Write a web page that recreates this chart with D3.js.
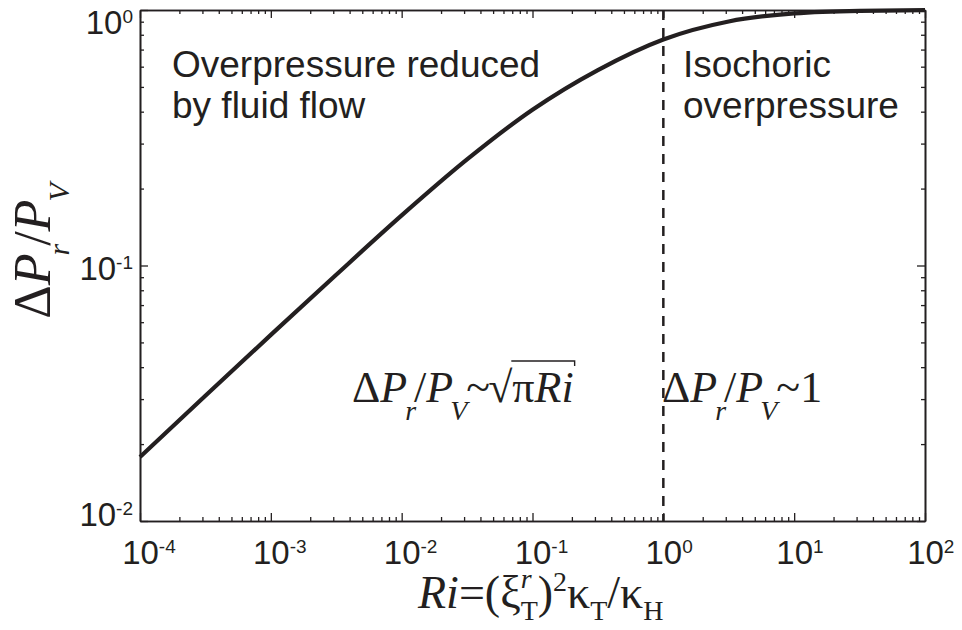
<!DOCTYPE html>
<html>
<head>
<meta charset="utf-8">
<script src="https://cdn.jsdelivr.net/npm/d3@7"></script>
<style>
  body { margin: 0; background: #fff; }
</style>
</head>
<body>
<div id="chart"></div>
<script>
// Values
const riValues = [0.0001, 0.000316, 0.001, 0.00316, 0.01, 0.0316, 0.1, 0.316, 1, 3.16, 10, 31.6, 100];
const pressureRatio = [0.0178, 0.0309, 0.0535, 0.092, 0.157, 0.260, 0.407, 0.582, 0.767, 0.902, 0.970, 0.993, 0.998];
const xTickExponents = [-4, -3, -2, -1, 0, 1, 2];
const yTickExponents = [-2, -1, 0];
const boundaryRi = 1;
const leftRegionLines = ["Overpressure reduced", "by fluid flow"];
const rightRegionLines = ["Isochoric", "overpressure"];

const width = 962, height = 630;
const margin = { top: 10, right: 37, bottom: 109, left: 140 };
const ink = "#231f20";
const sans = "'Liberation Sans', Arial, sans-serif";
const tickFont = "'Liberation Sans Narrow', 'Liberation Sans', sans-serif";
const serif = "'Liberation Serif', 'Times New Roman', serif";

const svg = d3.select("#chart")
    .append("svg")
    .attr("width", width)
    .attr("height", height)
    .style("background", "#fff");

// Scales
const xScale = d3.scaleLog()
    .domain([1e-4, 1e2])
    .range([margin.left, width - margin.right]);

const yScale = d3.scaleLog()
    .domain([1e-2, 1])
    .range([height - margin.bottom, margin.top]);

const x0 = xScale.range()[0], x1 = xScale.range()[1];
const y0 = yScale.range()[0], y1 = yScale.range()[1];

// Major and minor tick values
const xMajor = xTickExponents.map(e => Math.pow(10, e));
const yMajor = yTickExponents.map(e => Math.pow(10, e));
function minors(exps) {
    const out = [];
    exps.slice(0, -1).forEach(e => {
        for (let k = 2; k <= 9; k++) out.push(k * Math.pow(10, e));
    });
    return out;
}
const xMinor = minors(xTickExponents);
const yMinor = minors(yTickExponents);

function styleAxis(g) {
    g.select(".domain").attr("stroke", ink).attr("stroke-width", 1.6);
    g.selectAll(".tick line").attr("stroke", ink).attr("stroke-width", 1.3);
}

// Minor ticks on all four sides
svg.append("g").attr("transform", `translate(0,${y0})`)
    .call(d3.axisBottom(xScale).tickValues(xMinor).tickSize(-4).tickSizeOuter(0).tickFormat(""))
    .call(styleAxis);
svg.append("g").attr("transform", `translate(0,${y1})`)
    .call(d3.axisTop(xScale).tickValues(xMinor).tickSize(-4).tickSizeOuter(0).tickFormat(""))
    .call(styleAxis);
svg.append("g").attr("transform", `translate(${x0},0)`)
    .call(d3.axisLeft(yScale).tickValues(yMinor).tickSize(-4).tickSizeOuter(0).tickFormat(""))
    .call(styleAxis);
svg.append("g").attr("transform", `translate(${x1},0)`)
    .call(d3.axisRight(yScale).tickValues(yMinor).tickSize(-4).tickSizeOuter(0).tickFormat(""))
    .call(styleAxis);

// Major ticks
const xAxis = svg.append("g").attr("transform", `translate(0,${y0})`)
    .call(d3.axisBottom(xScale).tickValues(xMajor).tickSize(-8).tickSizeOuter(0).tickPadding(0))
    .call(styleAxis);
svg.append("g").attr("transform", `translate(0,${y1})`)
    .call(d3.axisTop(xScale).tickValues(xMajor).tickSize(-8).tickSizeOuter(0).tickFormat(""))
    .call(styleAxis);
const yAxis = svg.append("g").attr("transform", `translate(${x0},0)`)
    .call(d3.axisLeft(yScale).tickValues(yMajor).tickSize(-8).tickSizeOuter(0).tickPadding(0))
    .call(styleAxis);
svg.append("g").attr("transform", `translate(${x1},0)`)
    .call(d3.axisRight(yScale).tickValues(yMajor).tickSize(-8).tickSizeOuter(0).tickFormat(""))
    .call(styleAxis);

// Power-of-ten tick labels: 10 with a raised exponent
function powerLabel(text, d) {
    const e = Math.round(Math.log10(d));
    text.text(null)
        .attr("fill", ink)
        .attr("font-family", tickFont)
        .attr("font-size", 33);
    const base = text.append("tspan").text("10");
    text.append("tspan").attr("dy", -11).attr("font-size", 19).text(e);
    return base;
}

xAxis.selectAll(".tick text").each(function(d) {
    const t = d3.select(this);
    const base = powerLabel(t, d);
    const w = base.node().getComputedTextLength();
    t.attr("text-anchor", "start").attr("x", -w / 2).attr("y", 43).attr("dy", 0);
});

yAxis.selectAll(".tick text").each(function(d) {
    const t = d3.select(this);
    powerLabel(t, d);
    const [lo, hi] = yScale.domain();
    const dy = d === hi ? 23 : d === lo ? 4 : 14;
    t.attr("text-anchor", "end").attr("x", -7).attr("y", dy).attr("dy", 0);
});

// Regime boundary
svg.append("line")
    .attr("x1", xScale(boundaryRi)).attr("x2", xScale(boundaryRi))
    .attr("y1", y1).attr("y2", y0)
    .attr("stroke", ink)
    .attr("stroke-width", 2.5)
    .attr("stroke-dasharray", "10,8");

// The curve
const points = riValues.map((r, i) => [r, pressureRatio[i]]);
const line = d3.line()
    .x(d => xScale(d[0]))
    .y(d => yScale(d[1]))
    .curve(d3.curveMonotoneX);

svg.append("path")
    .datum(points)
    .attr("d", line)
    .attr("fill", "none")
    .attr("stroke", ink)
    .attr("stroke-width", 4.2);

// Region descriptions
function block(lines, x) {
    const t = svg.append("text")
        .attr("font-family", sans)
        .attr("font-size", 37)
        .attr("fill", ink);
    lines.forEach((s, i) => {
        t.append("tspan").attr("x", x).attr("y", 77 + i * 41).text(s);
    });
}
block(leftRegionLines, 172);
block(rightRegionLines, 683);

// Math-like text built from tspans
function mathText(parent, parts, size) {
    const t = parent.append("text")
        .attr("font-family", serif)
        .attr("font-size", size)
        .attr("fill", ink);
    parts.forEach(p => {
        const s = t.append("tspan").text(p.t);
        if (p.i) s.attr("font-style", "italic");
        if (p.s) s.attr("font-size", p.s);
        if (p.dy) s.attr("dy", p.dy);
        if (p.dx) s.attr("dx", p.dx);
        if (p.id) s.attr("class", p.id);
    });
    return t;
}

// Scaling-law annotations
const lawLeft = mathText(svg, [
    { t: "Δ" }, { t: "P", i: true },
    { t: "r", i: true, s: 28, dy: 18, dx: -2 },
    { t: "/", dy: -18, dx: -2 }, { t: "P", i: true },
    { t: "V", i: true, s: 28, dy: 18, dx: -3 },
    { t: "~", dy: -18, dx: -1 },
    { t: "√", dx: -2 },
    { t: "π", id: "rad" }, { t: "R", i: true, id: "rad" }, { t: "i", i: true, id: "rad" }
], 44).attr("x", 352).attr("y", 402);

// Radical bar over πRi
const radNodes = lawLeft.selectAll(".rad").nodes().map(n => n.getBBox());
const barX1 = d3.min(radNodes, b => b.x) - 1;
const barX2 = d3.max(radNodes, b => b.x + b.width) + 1;
svg.append("path")
    .attr("d", `M${barX1},361 H${barX2} V366`)
    .attr("fill", "none")
    .attr("stroke", ink)
    .attr("stroke-width", 1.4);

mathText(svg, [
    { t: "Δ" }, { t: "P", i: true },
    { t: "r", i: true, s: 28, dy: 18, dx: -2 },
    { t: "/", dy: -18, dx: -2 }, { t: "P", i: true },
    { t: "V", i: true, s: 28, dy: 18, dx: -3 },
    { t: "~", dy: -18, dx: -1 },
    { t: "1" }
], 44).attr("x", 662).attr("y", 402);

// X-axis label
mathText(svg, [
    { t: "R", i: true }, { t: "i", i: true },
    { t: "=" }, { t: "(" }, { t: "ξ" },
    { t: "T", s: 28, dy: 12 },
    { t: "r", i: true, s: 28, dy: -32, dx: -17 },
    { t: ")", dy: 20, dx: 6 },
    { t: "2", s: 28, dy: -17 },
    { t: "κ", dy: 17 },
    { t: "T", s: 28, dy: 12 },
    { t: "/", dy: -12 }, { t: "κ" },
    { t: "H", s: 28, dy: 12 }
], 46).attr("x", 418).attr("y", 608);

// Y-axis label
mathText(svg, [
    { t: "Δ" }, { t: "P", i: true },
    { t: "r", i: true, s: 30, dy: 19, dx: -2 },
    { t: "/", dy: -19, dx: -2 }, { t: "P", i: true },
    { t: "V", i: true, s: 30, dy: 19, dx: -2 }
], 52)
    .attr("text-anchor", "middle")
    .attr("transform", "translate(50,251) rotate(-90)");
</script>
</body>
</html>
